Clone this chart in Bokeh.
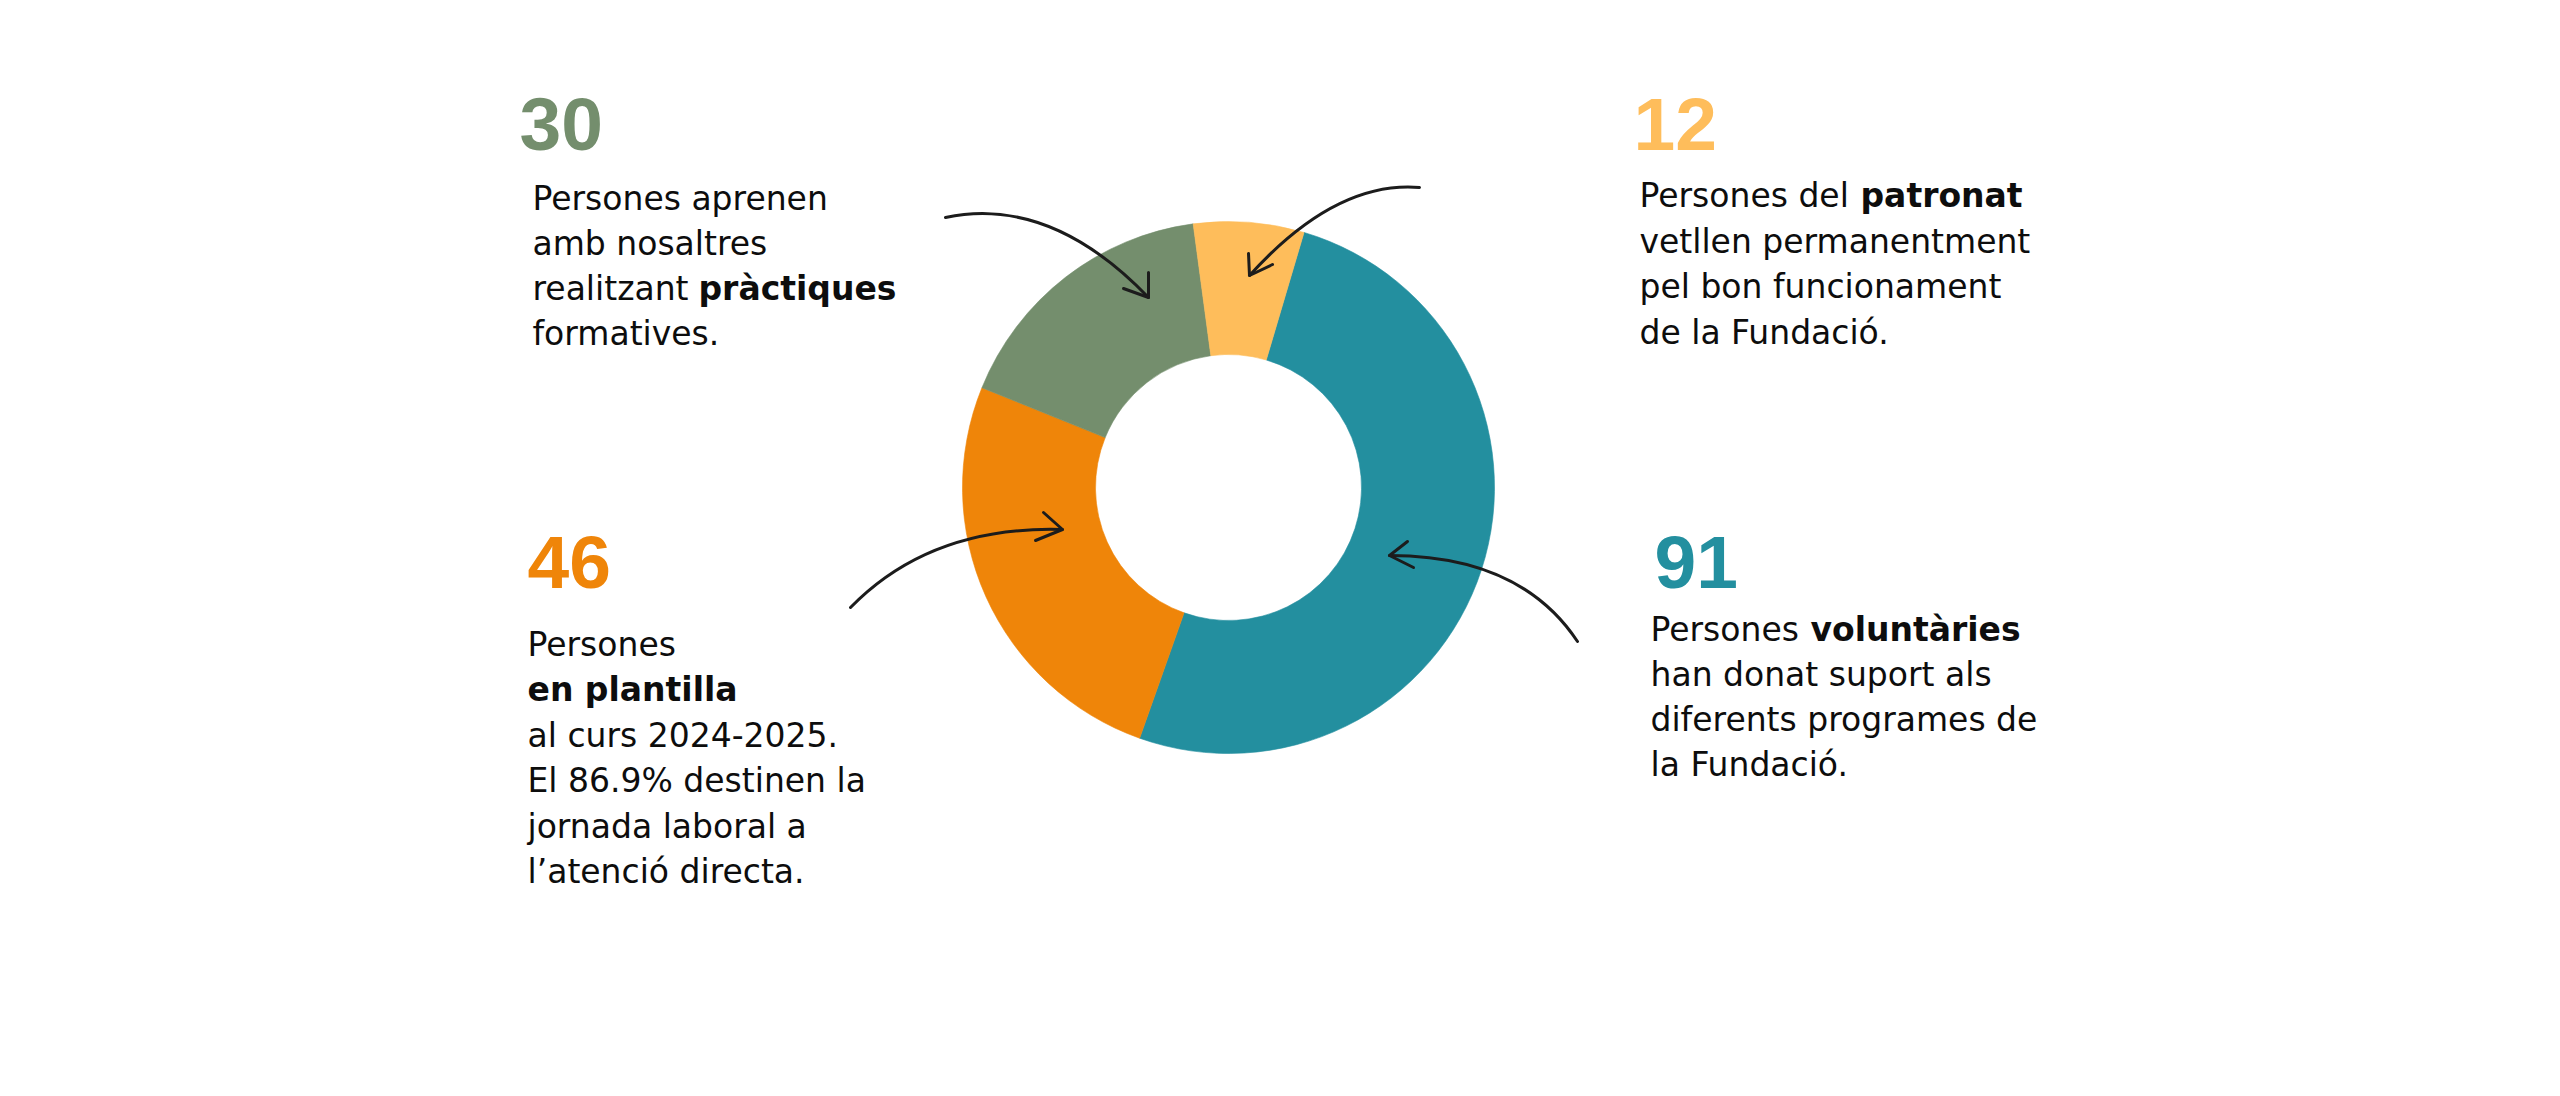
import math
from bokeh.plotting import figure
from bokeh.models import Range1d, ColumnDataSource
from bokeh.core.properties import value
from bokeh.embed import file_html
from bokeh.resources import INLINE

# ---- data ----
categories = ["Persones voluntàries", "Persones en plantilla", "Persones en pràctiques", "Persones del patronat"]
values = [91, 46, 30, 12]
colors = ["#238F9F", "#EF8509", "#748E6D", "#FEBD5B"]

W, H = 2544, 1080
BODY_FONT = "DejaVu Sans"
NUM_FONT = "Liberation Sans"
BODY_SIZE = "33px"
NUM_SIZE = "75px"
BODY_DY = 13   # baseline correction (px) for body text
NUM_DY = 28    # baseline correction (px) for big numbers
INK = "#0d0d0d"


def Y(iy):
    # convert page (image) y to data y
    return H - iy


p = figure(width=W, height=H, x_range=Range1d(0, W), y_range=Range1d(0, H),
           output_backend="svg", toolbar_location=None, min_border=0,
           x_axis_location=None, y_axis_location=None)
p.grid.visible = False
p.outline_line_color = None
p.background_fill_color = "white"
p.border_fill_color = "white"

# ---- donut ----
CX, CY = 1228, 487
R_OUT, R_IN = 266, 133
total = sum(values)
start0 = math.radians(73.5)
starts, ends = [], []
acc = 0
for v in values:
    s = start0 - 2 * math.pi * acc / total
    e = s - 2 * math.pi * v / total
    starts.append(s)
    ends.append(e)
    acc += v
src = ColumnDataSource(dict(start=starts, end=ends, color=colors, cat=categories, val=values))
p.annular_wedge(x=CX, y=Y(CY), inner_radius=R_IN, outer_radius=R_OUT,
                start_angle="start", end_angle="end", direction="clock",
                fill_color="color", line_color="color", line_width=0.6, source=src)

# ---- arrows (quadratic curves + heads), page coordinates ----
arrow_start = [(945, 217), (1419, 187), (850, 607), (1577, 641)]
arrow_ctrl = [(1050, 195), (1335, 180), (930, 525), (1520, 555)]
arrow_tip = [(1148, 297), (1249, 275), (1062, 529), (1389, 555)]
arrow_barb1 = [(1148, 272), (1248, 253), (1043, 512), (1407, 541)]
arrow_barb2 = [(1123, 288), (1272, 264), (1035, 540), (1413, 567)]

p.quadratic(x0=[a[0] for a in arrow_start], y0=[Y(a[1]) for a in arrow_start],
            x1=[a[0] for a in arrow_tip], y1=[Y(a[1]) for a in arrow_tip],
            cx=[a[0] for a in arrow_ctrl], cy=[Y(a[1]) for a in arrow_ctrl],
            line_color="#1c1c1c", line_width=3, line_cap="round")
xs, ys = [], []
for t, b1, b2 in zip(arrow_tip, arrow_barb1, arrow_barb2):
    xs.append([b1[0], t[0], b2[0]])
    ys.append([Y(b1[1]), Y(t[1]), Y(b2[1])])
p.multi_line(xs=xs, ys=ys, line_color="#1c1c1c", line_width=3, line_cap="round", line_join="round")


# ---- texts ----
def txt(x, y, s, size=BODY_SIZE, color=INK, bold=False, font=BODY_FONT, dy=BODY_DY):
    p.text(x=[x], y=[Y(y - dy)], text=[s], text_font=value(font), text_font_size=size,
           text_font_style="bold" if bold else "normal", text_color=color,
           text_baseline="alphabetic", text_align="left")


def num(x, y, i):
    txt(x, y, str(values[i]), size=NUM_SIZE, color=colors[i], bold=True, font=NUM_FONT, dy=NUM_DY)


# big numbers from data
num(519, 151, 2)
num(1633, 151, 3)
num(527, 589, 1)
num(1654, 589, 0)

# top-left block
txt(532, 211, "Persones aprenen")
txt(532, 256, "amb nosaltres")
txt(532, 301, "realitzant ")
txt(698, 301, "pràctiques", bold=True)
txt(532, 346, "formatives.")

# top-right block
txt(1639, 208, "Persones del ")
txt(1860, 208, "patronat", bold=True)
txt(1639, 254, "vetllen permanentment")
txt(1639, 299, "pel bon funcionament")
txt(1639, 345, "de la Fundació.")

# bottom-left block
txt(527, 657, "Persones")
txt(527, 702, "en plantilla", bold=True)
txt(527, 748, "al curs 2024-2025.")
txt(527, 793, "El 86.9% destinen la")
txt(527, 839, "jornada laboral a")
txt(527, 884, "l’atenció directa.")

# bottom-right block
txt(1650, 642, "Persones ")
txt(1810, 642, "voluntàries", bold=True)
txt(1650, 687, "han donat suport als")
txt(1650, 732, "diferents programes de")
txt(1650, 777, "la Fundació.")

open("out.html", "w").write(file_html(p, INLINE))
